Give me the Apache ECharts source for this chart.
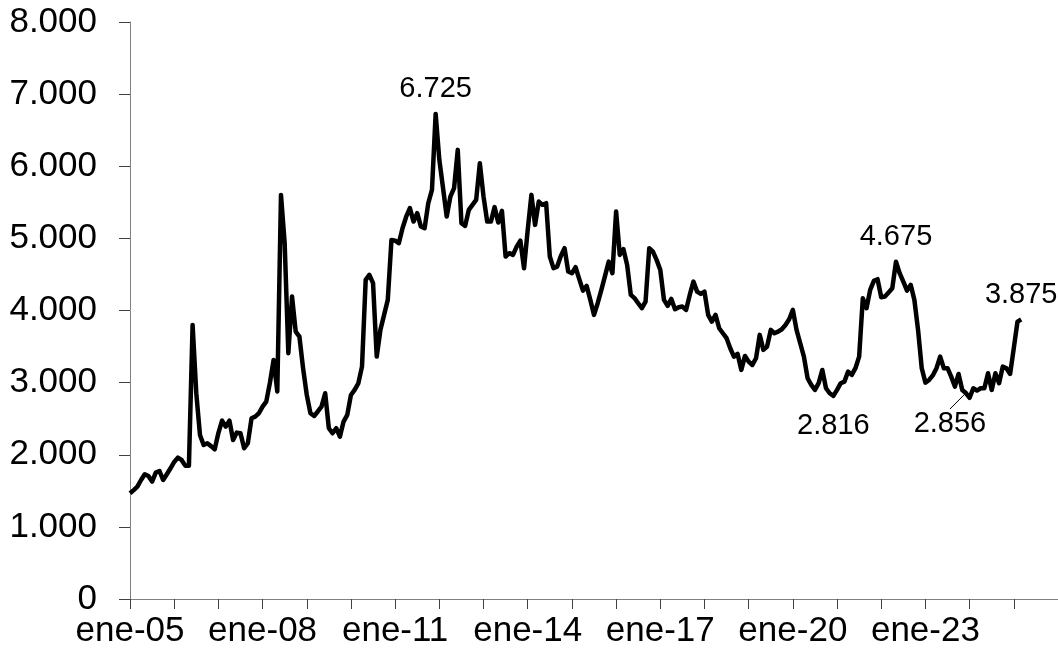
<!DOCTYPE html>
<html>
<head>
<meta charset="utf-8">
<script src="https://cdn.jsdelivr.net/npm/echarts/dist/echarts.min.js"></script>
<style>
  html, body { margin: 0; padding: 0; background: #fff; }
  #chart { width: 1058px; height: 661px; }
</style>
</head>
<body>
<div id="chart"></div>
<script>
// meses en español, eje desde ene-05 hasta ene-26
const monthNames = ['ene', 'feb', 'mar', 'abr', 'may', 'jun', 'jul', 'ago', 'sep', 'oct', 'nov', 'dic'];
const firstYear = 2005;
const lastYear = 2026;

// valores mensuales (ene-05 ... mar-25)
const values = [
  1466, 1510, 1558, 1650, 1729, 1706, 1627, 1752, 1775, 1650, 1730, 1812, // 2005
  1900, 1960, 1928, 1849, 1849, 3800, 2853, 2275, 2136, 2159, 2120, 2076, // 2006
  2300, 2473, 2390, 2473, 2205, 2307, 2298, 2090, 2159, 2506, 2529, 2575, // 2007
  2667, 2736, 3000, 3315, 2876, 5603, 4933, 3408, 4193, 3707, 3638, 3200, // 2008
  2830, 2575, 2538, 2600, 2667, 2853, 2368, 2298, 2368, 2251, 2460, 2552, // 2009
  2829, 2900, 2990, 3222, 4424, 4494, 4379, 3361, 3731, 3939, 4147, 4979, // 2010
  4969, 4933, 5141, 5300, 5419, 5233, 5349, 5164, 5141, 5488, 5673, 6725, // 2011
  6089, 5700, 5303, 5580, 5696, 6227, 5211, 5173, 5395, 5465, 5534, 6043, // 2012
  5580, 5233, 5233, 5433, 5219, 5381, 4748, 4795, 4771, 4886, 4969, 4587, // 2013
  5118, 5603, 5187, 5510, 5465, 5488, 4748, 4587, 4609, 4757, 4864, 4540, // 2014
  4517, 4600, 4434, 4276, 4341, 4147, 3939, 4101, 4286, 4480, 4678, 4517, // 2015
  5372, 4771, 4850, 4632, 4216, 4171, 4101, 4032, 4124, 4864, 4817, 4702, // 2016
  4563, 4147, 4064, 4161, 4018, 4046, 4055, 4008, 4216, 4401, 4262, 4230, // 2017
  4262, 3939, 3846, 3939, 3754, 3685, 3616, 3477, 3361, 3398, 3176, 3370, // 2018
  3291, 3245, 3338, 3662, 3454, 3500, 3731, 3685, 3707, 3740, 3800, 3879, // 2019
  4008, 3731, 3546, 3361, 3061, 2968, 2899, 2992, 3176, 2922, 2853, 2816, // 2020
  2899, 2992, 3014, 3153, 3107, 3200, 3361, 4171, 4032, 4286, 4411, 4434, // 2021
  4184, 4193, 4250, 4309, 4675, 4517, 4401, 4276, 4355, 4147, 3731, 3200, // 2022
  3000, 3037, 3100, 3200, 3361, 3200, 3200, 3083, 2945, 3120, 2899, 2856, // 2023
  2790, 2922, 2890, 2922, 2922, 3130, 2899, 3130, 2992, 3222, 3200, 3120, // 2024
  3480, 3846, 3875                                                        // 2025
];

// puntos con etiqueta de valor
const labelledAbove = [83, 208, 242];
const labelledBelow = [191];
const labelledLeader = [227];

const yTicks = [0, 1000, 2000, 3000, 4000, 5000, 6000, 7000, 8000];

const categories = [];
for (let y = firstYear; y <= lastYear; y++) {
  for (let m = 0; m < 12; m++) {
    if (y === lastYear && m > 0) break;
    categories.push(monthNames[m] + '-' + String(y).slice(2));
  }
}
const lastIdx = categories.length - 1;

const fmt = v => String(v).replace(/\B(?=(\d{3})+(?!\d))/g, '.');

const font = 'Liberation Sans, Arial, sans-serif';
const labelFont = { fontFamily: font, fontSize: 29, color: '#000' };

const seriesData = values.map((v, i) => {
  if (labelledAbove.includes(i)) {
    return { value: v, label: { show: true, position: 'top', distance: 10, ...labelFont, formatter: p => fmt(p.value) } };
  }
  if (labelledBelow.includes(i)) {
    return { value: v, label: { show: true, position: 'bottom', distance: 16, ...labelFont, formatter: p => fmt(p.value) } };
  }
  if (labelledLeader.includes(i)) {
    return {
      value: v,
      label: { show: true, position: 'bottom', distance: 16, ...labelFont, formatter: p => fmt(p.value) },
      labelLine: { show: true, lineStyle: { color: '#000', width: 1 } }
    };
  }
  return v;
});

const chart = echarts.init(document.getElementById('chart'));
const option = {
  animation: false,
  grid: { left: 130, right: 0, top: 22, bottom: 62, outerBoundsMode: 'none', containLabel: false },
  xAxis: {
    type: 'category',
    data: categories,
    boundaryGap: false,
    axisLine: { lineStyle: { color: '#808080', width: 1 } },
    axisTick: {
      show: true,
      length: 10,
      interval: i => i % 12 === 0 && i < lastIdx,
      lineStyle: { color: '#404040' }
    },
    axisLabel: {
      interval: i => i % 36 === 0 && i < lastIdx,
      margin: 15,
      fontFamily: font,
      fontSize: 35,
      color: '#000'
    },
    splitLine: { show: false }
  },
  yAxis: {
    type: 'value',
    min: yTicks[0],
    max: yTicks[yTicks.length - 1],
    interval: 1000,
    axisLine: { show: true, lineStyle: { color: '#808080', width: 1 } },
    axisTick: { show: true, length: 11, lineStyle: { color: '#404040' } },
    axisLabel: {
      margin: 33,
      fontFamily: font,
      fontSize: 35,
      color: '#000',
      formatter: v => fmt(v)
    },
    splitLine: { show: false }
  },
  series: [{
    type: 'line',
    data: seriesData,
    symbol: 'circle',
    symbolSize: 0.1,
    showSymbol: true,
    showAllSymbol: true,
    itemStyle: { color: '#000' },
    lineStyle: { color: '#000', width: 4.5, join: 'round' },
    labelLayout: p => (labelledLeader.includes(p.dataIndex) ? { dx: -16 } : {}),
    emphasis: { disabled: true }
  }]
};
chart.setOption(option);
</script>
</body>
</html>
